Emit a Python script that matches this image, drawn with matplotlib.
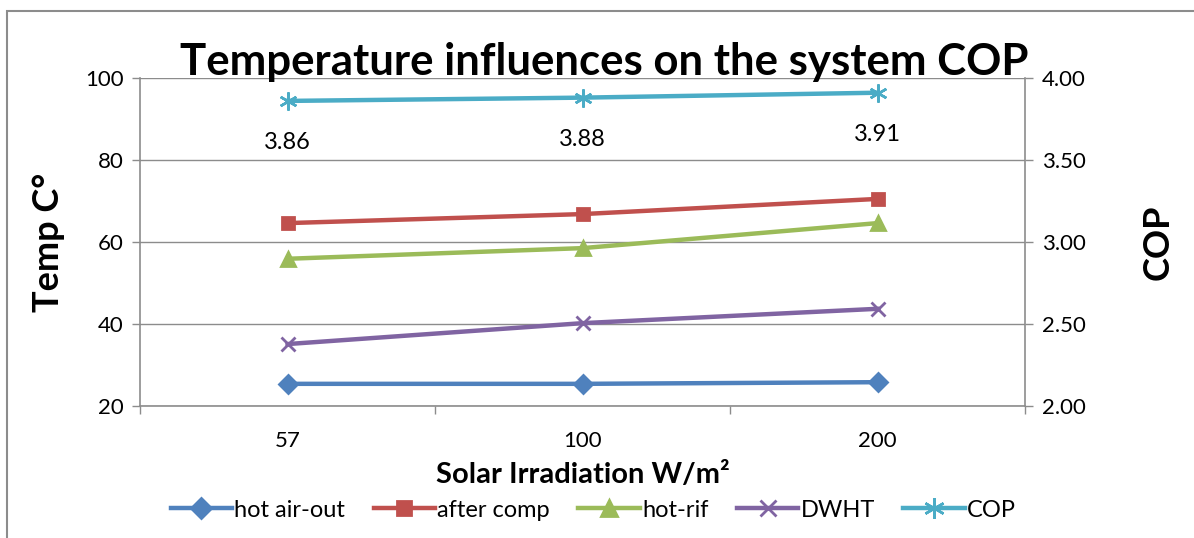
import matplotlib.pyplot as plt
import numpy as np
from matplotlib.patches import Rectangle

categories = ["57", "100", "200"]
hot_air_out = [25.4, 25.4, 25.8]
after_comp = [64.6, 66.8, 70.5]
hot_rif = [55.9, 58.5, 64.6]
dwht = [35.1, 40.2, 43.7]
cop = [3.86, 3.88, 3.91]
cop_labels = ["3.86", "3.88", "3.91"]

plt.rcParams["font.family"] = ["Lato", "DejaVu Sans"]
GRAY = "#8c8c8c"

fig = plt.figure(figsize=(11.94, 5.38), dpi=100)
ax = fig.add_axes([0.1173, 0.2454, 0.7412, 0.6097])
ax2 = ax.twinx()

x = np.arange(len(categories)) + 0.5
series = [
    ("hot air-out", hot_air_out, "#4F81BD", "D", 9),
    ("after comp", after_comp, "#C0504D", "s", 9),
    ("hot-rif", hot_rif, "#9BBB59", "^", 10),
    ("DWHT", dwht, "#8064A2", "x", 10),
]
handles = []
for name, vals, col, mk, ms in series:
    h, = ax.plot(x, vals, color=col, lw=3.2, marker=mk, ms=ms,
                 mec=col, mfc=col, mew=2, label=name, zorder=3)
    handles.append(h)

hc, = ax2.plot(x, cop, color="#4BACC6", lw=3.2, marker=(6, 2, 0), ms=13,
               mec="#4BACC6", mew=1.8, label="COP", zorder=3)
handles.append(hc)
for xi, v, t in zip(x, cop, cop_labels):
    ax2.annotate(t, (xi, v), xytext=(0, -30), textcoords="offset points",
                 ha="center", va="center", fontsize=17)

ax.set_xlim(0, 3)
ax.set_ylim(20, 100)
ax.set_yticks([20, 40, 60, 80, 100])
ax2.set_ylim(2.0, 4.0)
ax2.set_yticks([2.0, 2.5, 3.0, 3.5, 4.0])
ax2.set_yticklabels([f"{v:.2f}" for v in [2.0, 2.5, 3.0, 3.5, 4.0]])

ax.set_xticks([0, 1, 2, 3])
ax.set_xticklabels([])
ax.set_xticks(x, minor=True)
ax.set_xticklabels(categories, minor=True)
ax.tick_params(axis="x", which="major", length=6, color=GRAY, width=1)
ax.tick_params(axis="x", which="minor", length=0, pad=18, labelsize=16)
ax.tick_params(axis="y", length=6, color=GRAY, width=1, labelsize=16, pad=6)
ax2.tick_params(axis="y", length=6, color=GRAY, width=1, labelsize=16, pad=6)

ax.grid(axis="y", color=GRAY, lw=1)
ax.set_axisbelow(True)
for a in (ax, ax2):
    for s in a.spines.values():
        s.set_visible(False)
ax.spines["left"].set_visible(True)
ax.spines["bottom"].set_visible(True)
ax2.spines["right"].set_visible(True)
for s in (ax.spines["left"], ax.spines["bottom"], ax2.spines["right"]):
    s.set_color(GRAY)
    s.set_linewidth(1.2)

ax.set_ylabel("Temp C°", fontsize=26, fontweight="bold", labelpad=14)
ax2.set_ylabel("COP", fontsize=26, fontweight="bold", labelpad=40)
ax.set_xlabel("Solar Irradiation W/m²", fontsize=21, fontweight="bold", labelpad=8)
fig.text(0.506, 0.884, "Temperature influences on the system COP",
         ha="center", va="center", fontsize=31.5, fontweight="bold")

fig.legend(handles=handles, loc="center", bbox_to_anchor=(0.497, 0.052),
           ncol=5, frameon=False, fontsize=17, handlelength=2.6,
           columnspacing=1.2, handletextpad=0.1, markerscale=1.15)

fig.patches.append(Rectangle((7 / 1194, -0.1), 1.2, 1 - 11 / 538 + 0.1,
                             transform=fig.transFigure, fill=False,
                             edgecolor=GRAY, lw=1.5))

fig.savefig("out.png", dpi=100)
